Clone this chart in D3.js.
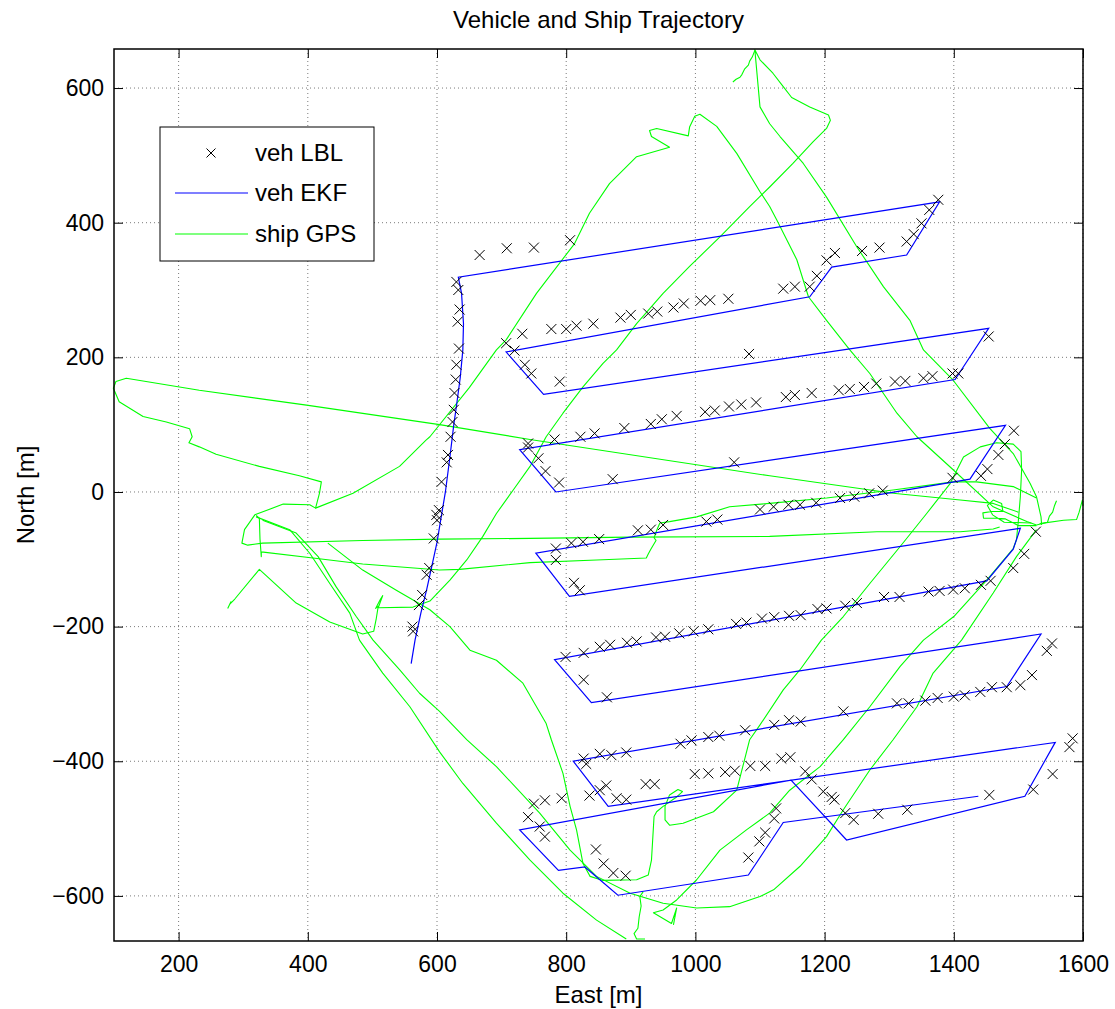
<!DOCTYPE html>
<html>
<head>
<meta charset="utf-8">
<script src="https://cdn.jsdelivr.net/npm/d3@7"></script>
<style>
  body { margin: 0; background: #fff; }
  svg { font-family: "Liberation Sans", Arial, Helvetica, sans-serif; }
</style>
</head>
<body>
<svg id="chart" width="1115" height="1009"></svg>
<script>
// axis ticks
const xTicks = [200, 400, 600, 800, 1000, 1200, 1400, 1600];
const yTicks = [-600, -400, -200, 0, 200, 400, 600];
const legendLabels = ["veh LBL", "veh EKF", "ship GPS"];

// vehicle EKF track [east, north]
const ekfPath = [
  [560,-255],[566,-220],[575,-180],[584,-145],[592,-110],[600,-75],[606,-40],[613,0],[620,52],
  [626,100],[630,127],[636,170],[640,211],[641,250],[638,295],[633,319],
  [1378,431],[1327,352],[1211,334],[1177,290],[707,208],[765,145],
  [1454,243],[1402,167],[728,63],[784,0],
  [1480,99],[1425,19],[753,-91],[805,-155],
  [1503,-54],[1492,-85],[1451,-132],[782,-249],[839,-313],
  [1535,-211],[1482,-289],[811,-400],[865,-467],
  [1557,-372],[1510,-452],[1234,-517],[1148,-428],[728,-502],[788,-562],[829,-557],[880,-599],
  [1082,-569],[1136,-491],[1438,-452]
];

// vehicle LBL fixes [east, north]
const lblFixes = [
  [634,213],[632,253],[635,271],[633,300],[630,312],[630,189],[629,167],[627,147],[626,122],[624,104],
  [621,82],[617,55],[615,44],[607,15],[603,-27],[599,-34],[600,-42],[595,-69],[588,-113],[584,-123],
  [577,-153],[572,-168],[562,-200],[563,-207],
  [666,352],[708,362],[750,363],[806,374],
  [707,221],[732,235],[777,242],[800,242],[816,247],[842,250],[884,259],[900,263],[927,265],[941,268],
  [966,274],[982,280],[1008,284],[1023,285],[1051,287],[1136,302],[1154,305],[1177,305],[1188,321],
  [1203,344],[1216,355],[1258,358],[1285,363],[1327,372],[1338,383],[1350,399],[1362,419],[1376,434],
  [720,210],[736,189],[746,176],[790,164],[1083,205],[1454,231],
  [741,72],[782,78],[822,82],[844,87],[890,95],[931,101],[948,108],[971,113],[1015,119],[1030,121],
  [1052,127],[1071,130],[1094,133],[1140,141],[1154,144],[1180,147],[1222,151],[1239,153],[1261,156],
  [1280,161],[1309,164],[1325,165],[1353,169],[1367,172],[1398,176],[1407,176],
  [741,66],[757,50],[768,31],[789,14],[872,19],[1060,44],
  [784,-84],[784,-101],[808,-76],[826,-74],[851,-70],[911,-57],[931,-56],[950,-49],[1017,-44],[1034,-41],
  [1100,-26],[1121,-22],[1144,-19],[1162,-19],[1187,-16],[1224,-9],[1246,-7],[1269,-2],[1290,2],
  [1398,21],[1442,24],[1452,34],[1469,55],[1479,71],[1493,91],[812,-135],[821,-146],
  [1527,-59],[1509,-92],[1492,-113],[1457,-132],[1442,-138],[1417,-143],[1399,-145],[1378,-147],
  [1361,-148],[1316,-156],[1292,-156],[1250,-165],[1232,-169],[1203,-173],[1189,-174],[1163,-183],
  [1145,-184],[1122,-186],[1103,-188],[1079,-194],[1063,-196],[1020,-204],[997,-207],[975,-210],
  [953,-215],[939,-216],[909,-222],[894,-224],[868,-227],[852,-230],[827,-239],[799,-245],[827,-279],[863,-305],
  [1552,-225],[1544,-236],[1521,-272],[1503,-287],[1482,-290],[1459,-290],[1441,-297],[1417,-302],
  [1400,-304],[1375,-306],[1356,-310],[1330,-314],[1312,-314],[1229,-326],[1163,-341],[1145,-339],
  [1122,-346],[1077,-354],[1037,-362],[1020,-364],[994,-369],[977,-374],[893,-387],[870,-391],
  [852,-389],[831,-404],[827,-396],
  [1108,-407],[1085,-407],[1061,-414],[1046,-416],[1020,-418],[999,-419],[1133,-396],[1147,-394],
  [1170,-415],[1180,-427],[1198,-445],[1211,-453],[1215,-457],[1232,-477],[1245,-487],[1283,-478],
  [1328,-472],[1455,-450],[1523,-442],[1553,-419],[1579,-379],[1584,-366],
  [750,-463],[767,-458],[793,-455],[741,-483],[759,-497],[767,-512],[836,-451],[852,-443],[862,-436],
  [878,-455],[893,-457],[923,-434],[937,-434],[846,-531],[858,-552],[873,-566],[892,-570],
  [1082,-543],[1099,-519],[1108,-506],[1122,-485],[1125,-470]
];

// ship GPS track pieces [east, north]
const gpsWestLoop = [
  [1500,-30],[1461,-17],[1410,-12],[1306,-2],[1115,24],[744,78],[604,100],[398,129],[232,151],
  [119,169],[103,164],[99,154],[108,134],[145,112],[181,104],[217,94],[221,82],[216,73],[232,67],
  [258,56],[325,38],[387,24],[421,15],[418,-2],[412,-24],[470,-2],[542,38],[583,77],[589,82],
  [650,155],[692,211],[707,226],[754,295],[813,369],[836,414],[867,458],[909,498],[960,512],
  [932,528],[929,537],[940,540],[989,529],[991,542],[999,558],[1007,561],[1033,543],[1064,503],
  [1100,446],[1115,424],[1126,404],[1157,345],[1175,290],[1203,255],[1239,211],[1270,176],
  [1312,117],[1343,82],[1399,33],[1461,-22],[1513,-44],[1528,-49]
];
const gpsMiddleLine = [
  [1471,-52],[1461,-55],[1410,-59],[1281,-59],[1115,-66],[899,-67],[744,-69],[604,-70],[485,-72],
  [330,-76],[307,-79],[298,-76],[302,-56],[318,-34],[362,-18],[403,-19],[412,-24]
];
const gpsLowerLine = [
  [1528,-9],[1492,8],[1435,15],[1399,15],[1306,3],[1203,-9],[1115,-17],[1053,-22],[1002,-37],
  [960,-44],[945,-46],[941,-55],[936,-68],[939,-72],[931,-85],[927,-92],[924,-98],[847,-101],
  [744,-105],[635,-115],[604,-116],[485,-107],[408,-98],[328,-89],[328,-96],[326,-70],[325,-39],[320,-35]
];
const gpsSouthA = [
  [320,-37],[372,-56],[403,-91],[434,-136],[465,-180],[480,-220],[516,-269],[558,-319],[604,-386],
  [640,-433],[692,-492],[744,-547],[795,-596],[847,-636],[893,-664]
];
const gpsSouthB = [
  [330,-42],[382,-61],[416,-96],[444,-141],[475,-185],[501,-220],[542,-264],[573,-299],[604,-326],
  [646,-368],[692,-408],[759,-477],[806,-532],[847,-571],[899,-596],[950,-611],[1002,-618],
  [1053,-616],[1100,-601],[1121,-591],[1162,-556],[1203,-512],[1229,-472],[1270,-413],[1306,-368],
  [1343,-319],[1368,-269],[1412,-220],[1461,-150],[1497,-96],[1528,-56]
];
const gpsNorthRun = [
  [276,-173],[281,-163],[279,-167],[287,-159],[325,-115],[382,-165],[434,-193],[485,-211],[502,-207],
  [506,-188],[509,-170],[505,-173],[512,-160],[516,-154],[509,-172],[563,-171],[589,-162],[620,-131],
  [646,-101],[671,-66],[692,-32],[718,3],[744,38],[769,82],[795,117],[826,156],[857,191],[878,211],
  [909,250],[950,295],[991,335],[1038,379],[1084,424],[1115,453],[1151,488],[1182,520],[1203,540],
  [1209,552],[1206,560],[1177,572],[1149,586],[1136,602],[1120,622],[1100,642],[1092,657],
  [1100,572],[1115,547],[1131,528],[1167,488],[1203,438],[1250,364],[1291,305],[1332,255],[1353,211],
  [1399,166],[1456,94],[1492,57],[1518,13],[1528,-7],[1535,-37],[1536,-49]
];
const gpsNorthSpur = [
  [1092,656],[1088,646],[1084,640],[1082,634],[1076,628],[1072,620],[1069,616],[1063,613],[1058,609]
];
const gpsSouthLoop = [
  [431,-76],[485,-116],[537,-146],[589,-175],[620,-200],[651,-235],[692,-250],[733,-284],[769,-344],
  [777,-368],[795,-418],[806,-467],[816,-502],[826,-552],[837,-571],[857,-577],[909,-576],[927,-569],
  [932,-547],[936,-482],[940,-475],[950,-467],[971,-453],[980,-445],[973,-442],[960,-450],[953,-467],
  [953,-487],[960,-495],[981,-492],[1028,-475],[1064,-443],[1084,-368],[1100,-346],[1136,-294],
  [1162,-264],[1195,-220],[1229,-185],[1270,-136],[1317,-81],[1358,-32],[1394,12],[1415,52],
  [1441,67],[1466,73],[1492,71],[1504,60],[1505,33],[1503,-7],[1500,-42],[1497,-71],[1492,-84],
  [1450,-132],[1400,-185],[1353,-220],[1317,-259],[1270,-319],[1229,-368],[1193,-408],[1146,-443],
  [1115,-477],[1079,-502],[1038,-532],[1002,-576],[971,-606],[950,-621],[935,-625],[963,-641],
  [971,-618],[966,-643]
];
const gpsBottomSpur = [
  [919,-594],[914,-601],[916,-615],[913,-631],[911,-648],[905,-656],[909,-664],[922,-664]
];
const gpsKnot = [
  [1528,-50],[1500,-50],[1480,-40],[1466,-39],[1446,-39],[1445,-31],[1459,-29],[1476,-29],
  [1474,-17],[1461,-12],[1452,-20],[1460,-34],[1478,-45],[1520,-46]
];
const gpsTailA = [[1528,-49],[1545,-45],[1548,-36],[1553,-30],[1556,-20],[1559,-13]];
const gpsTailB = [[1533,-47],[1570,-42],[1590,-41],[1594,-30],[1596,-23],[1599,-12],[1600,-20]];

const gpsPieces = [gpsWestLoop, gpsMiddleLine, gpsLowerLine, gpsSouthA, gpsSouthB, gpsNorthRun,
  gpsNorthSpur, gpsSouthLoop, gpsBottomSpur, gpsKnot, gpsTailA, gpsTailB];

const svg = d3.select("#chart");
const pL = 114, pR = 1083, pT = 49, pB = 941;

const x = d3.scaleLinear().domain([100, 1600]).range([pL, pR]);
const y = d3.scaleLinear().domain([-667, 658]).range([pB, pT]);

const fmt = d => d < 0 ? "\u2212" + Math.abs(d) : String(d);

// grid
const grid = svg.append("g");
grid.selectAll("line.gx").data(xTicks).enter().append("line")
  .attr("x1", d => x(d)).attr("x2", d => x(d)).attr("y1", pT).attr("y2", pB)
  .attr("stroke", "#7a7a7a").attr("stroke-width", 1).attr("stroke-dasharray", "1,3");
grid.selectAll("line.gy").data(yTicks).enter().append("line")
  .attr("x1", pL).attr("x2", pR).attr("y1", d => y(d)).attr("y2", d => y(d))
  .attr("stroke", "#7a7a7a").attr("stroke-width", 1).attr("stroke-dasharray", "1,3");

// plot
const plot = svg.append("g");
const line = d3.line().x(d => x(d[0])).y(d => y(d[1]));

plot.selectAll("path.gps").data(gpsPieces).enter().append("path")
  .attr("class", "gps").attr("d", line)
  .attr("fill", "none").attr("stroke", "#00ff00").attr("stroke-width", 1.1)
  .attr("stroke-linejoin", "round");

plot.append("path").datum(ekfPath).attr("d", line)
  .attr("fill", "none").attr("stroke", "#0000ff").attr("stroke-width", 1.2);

const cross = "M-5,-5L5,5M-5,5L5,-5";
plot.selectAll("path.lbl").data(lblFixes).enter().append("path")
  .attr("class", "lbl")
  .attr("transform", d => `translate(${x(d[0])},${y(d[1])})`)
  .attr("d", cross).attr("stroke", "#000").attr("stroke-width", 1).attr("fill", "none");

// axes, ticks inward on all sides
const ax = svg.append("g");
ax.append("g").attr("transform", `translate(0,${pB})`)
  .call(d3.axisBottom(x).tickValues(xTicks).tickSize(-9).tickPadding(15).tickFormat(fmt));
ax.append("g").attr("transform", `translate(0,${pT})`)
  .call(d3.axisTop(x).tickValues(xTicks).tickSize(-9).tickFormat(""));
ax.append("g").attr("transform", `translate(${pL},0)`)
  .call(d3.axisLeft(y).tickValues(yTicks).tickSize(-9).tickPadding(10).tickFormat(fmt));
ax.append("g").attr("transform", `translate(${pR},0)`)
  .call(d3.axisRight(y).tickValues(yTicks).tickSize(-9).tickFormat(""));
ax.selectAll(".domain").remove();
ax.selectAll(".tick line").attr("stroke", "#000").attr("stroke-width", 1);
ax.selectAll(".tick text").attr("font-size", 23).attr("fill", "#000")
  .attr("font-family", "Liberation Sans, Arial, sans-serif");

svg.append("rect").attr("x", pL).attr("y", pT)
  .attr("width", pR - pL).attr("height", pB - pT)
  .attr("fill", "none").attr("stroke", "#000").attr("stroke-width", 1.5);

// titles
svg.append("text").attr("x", (pL + pR) / 2).attr("y", 28).attr("text-anchor", "middle")
  .attr("font-size", 24).text("Vehicle and Ship Trajectory");
svg.append("text").attr("x", (pL + pR) / 2).attr("y", 1003).attr("text-anchor", "middle")
  .attr("font-size", 24).text("East [m]");
svg.append("text").attr("transform", `translate(34,${(pT + pB) / 2}) rotate(-90)`)
  .attr("text-anchor", "middle").attr("font-size", 24).text("North [m]");

// legend
const lg = svg.append("g");
lg.append("rect").attr("x", 160).attr("y", 127).attr("width", 214).attr("height", 134)
  .attr("fill", "#fff").attr("stroke", "#000").attr("stroke-width", 1);
const rowY = [153, 193, 234];
lg.append("path").attr("transform", `translate(211,${rowY[0]})`)
  .attr("d", "M-4.5,-4.5L4.5,4.5M-4.5,4.5L4.5,-4.5").attr("stroke", "#000").attr("fill", "none");
lg.append("line").attr("x1", 175).attr("x2", 248).attr("y1", rowY[1]).attr("y2", rowY[1])
  .attr("stroke", "#0000ff").attr("stroke-width", 1.2);
lg.append("line").attr("x1", 175).attr("x2", 248).attr("y1", rowY[2]).attr("y2", rowY[2])
  .attr("stroke", "#00ff00").attr("stroke-width", 1.2);
lg.selectAll("text").data(legendLabels).enter().append("text")
  .attr("x", 255).attr("y", (d, i) => rowY[i] + 8).attr("font-size", 24).text(d => d);
</script>
</body>
</html>
